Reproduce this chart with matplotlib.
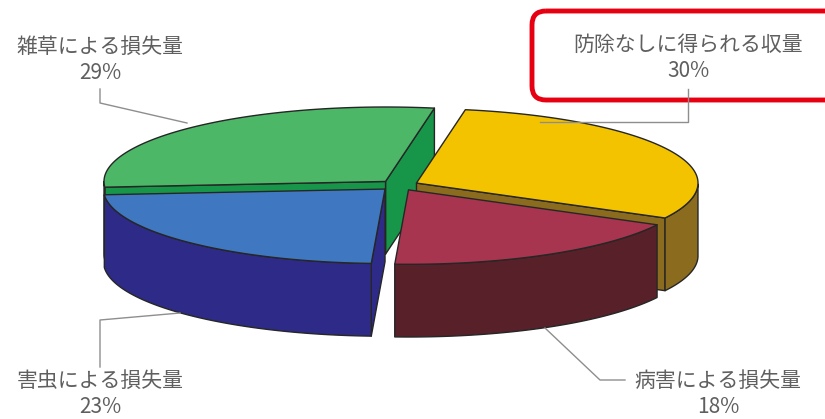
import numpy as np
import matplotlib.pyplot as plt
from matplotlib.patches import Polygon, FancyBboxPatch

plt.rcParams['font.family'] = ['Noto Sans CJK JP', 'DejaVu Sans']

# data, clockwise from the top
labels = ['防除なしに得られる収量', '病害による損失量', '害虫による損失量', '雑草による損失量']
shares = [30, 18, 23, 29]
top_colors = ['#F4C300', '#A8354F', '#3F78C1', '#4DB768']
side_colors = ['#8B6B1D', '#582028', '#2E2B88', '#17964A']

start = 80.0          # degrees, first wedge starts here and runs clockwise
elev = np.radians(16)
depth = 0.28
explode = 0.07
edge = '#262626'


def proj(x, y, z):
    return np.asarray(x), np.asarray(y) * np.sin(elev) + np.asarray(z) * np.cos(elev)


# build the faces of every wedge in raw projected coords
wedges = []
cum = 0.0
for share, tc, sc in zip(shares, top_colors, side_colors):
    a_hi = start - cum * 3.6
    a_lo = a_hi - share * 3.6
    cum += share
    mid = np.radians((a_hi + a_lo) / 2)
    ox, oy = explode * np.cos(mid), explode * np.sin(mid)
    th = np.radians(np.linspace(a_lo, a_hi, 120))
    ax_, ay_ = ox + np.cos(th), oy + np.sin(th)

    faces = []
    # radial cut faces
    for ang, nrm in ((a_lo, a_lo - 90), (a_hi, a_hi + 90)):
        if np.sin(np.radians(nrm)) < -1e-6:
            ex, ey = ox + np.cos(np.radians(ang)), oy + np.sin(np.radians(ang))
            xs = [ox, ex, ex, ox]
            ys = [oy, ey, ey, oy]
            zs = [0, 0, -depth, -depth]
            faces.append((proj(xs, ys, zs), sc))
    # outer curved side, only the front-facing part
    vis = np.sin(th) < 0
    if vis.any():
        idx = np.where(vis)[0]
        groups = np.split(idx, np.where(np.diff(idx) > 1)[0] + 1)
        for g in groups:
            xs = np.concatenate([ax_[g], ax_[g][::-1]])
            ys = np.concatenate([ay_[g], ay_[g][::-1]])
            zs = np.concatenate([np.zeros(len(g)), np.full(len(g), -depth)])
            faces.append((proj(xs, ys, zs), sc))
    # top face
    xs = np.concatenate([[ox], ax_])
    ys = np.concatenate([[oy], ay_])
    faces.append((proj(xs, ys, np.zeros(len(xs))), tc))
    wedges.append((np.sin(mid), faces))

# fit the pie into its place on the canvas
allx = np.concatenate([f[0][0] for w in wedges for f in w[1]])
ally = np.concatenate([f[0][1] for w in wedges for f in w[1]])
x0, x1 = allx.min(), allx.max()
y0, y1 = ally.min(), ally.max()
box = (104, 698, 107, 337)


def to_px(px, py):
    X = box[0] + (px - x0) / (x1 - x0) * (box[1] - box[0])
    Y = box[3] - (py - y0) / (y1 - y0) * (box[3] - box[2])
    return np.column_stack([X, Y])


fig = plt.figure(figsize=(8.25, 4.19), dpi=100)
ax = fig.add_axes([0, 0, 1, 1])
ax.set_xlim(0, 825)
ax.set_ylim(419, 0)
ax.axis('off')

for _, faces in sorted(wedges, key=lambda w: -w[0]):
    for (px, py), col in faces:
        ax.add_patch(Polygon(to_px(px, py), closed=True, facecolor=col,
                             edgecolor=edge, lw=1.0, joinstyle='round'))

# labels and leader lines
gray = '#5f5f5f'
line = '#8e8e8e'
label_pos = [(688, 45), (718, 381), (100, 381), (100, 47)]
for lab, sh, (x, y) in zip(labels, shares, label_pos):
    ax.text(x, y, lab, ha='center', va='center', fontsize=15, color=gray)
    ax.text(x, y + 26, f'{sh}%', ha='center', va='center', fontsize=15, color=gray)

ax.plot([688, 688, 540], [89, 122, 122], color=line, lw=1)
ax.plot([625, 600, 545], [380, 380, 328], color=line, lw=1)
ax.plot([100, 100, 180], [367, 320, 313], color=line, lw=1)
ax.plot([100, 100, 187], [89, 103, 123], color=line, lw=1)

ax.add_patch(FancyBboxPatch((532, 11), 330, 89,
                            boxstyle='round,pad=0,rounding_size=14',
                            facecolor='none', edgecolor='#E60012', lw=3.5))

fig.savefig('out.png', dpi=100)
